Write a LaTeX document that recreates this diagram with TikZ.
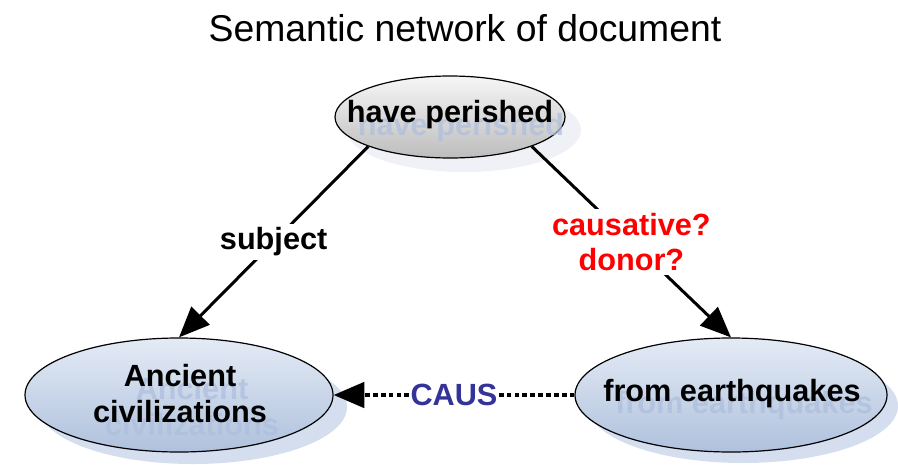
\documentclass[tikz,border=0pt]{standalone}
\usepackage{fontspec}
\setmainfont{Liberation Sans}
\usetikzlibrary{arrows.meta,shapes.geometric}
\newdimen\pxu \pxu=0.75pt
\definecolor{ellTop}{HTML}{E4EBF5}
\definecolor{ellBot}{HTML}{AFC1DD}
\definecolor{grayTop}{HTML}{F6F6F6}
\definecolor{grayBot}{HTML}{BDBDBD}
\definecolor{shadowBlue}{HTML}{D4DEEF}
\definecolor{shadowGray}{HTML}{EFF1F6}
\definecolor{ghostText}{HTML}{AEBFDD}
\definecolor{causBlue}{HTML}{333399}
\definecolor{askRed}{HTML}{FF0000}

\begin{document}
\begin{tikzpicture}[x=0.75pt,y=-0.75pt,
  concept/.style={ellipse, draw=black, line width=0.9pt, inner sep=0pt},
  blueconcept/.style={concept, top color=ellTop, bottom color=ellBot},
  grayconcept/.style={concept, top color=grayTop, bottom color=grayBot},
  word/.style={font=\fontsize{23}{27}\selectfont\bfseries, align=center, inner sep=0pt},
  ghost/.style={word, text=ghostText, opacity=0.75},
  edgelabel/.style={font=\fontsize{23}{26}\selectfont\bfseries, align=center, fill=white, inner sep=3pt},
  rel/.style={line width=2.25pt, -{Triangle[length=23pt,width=19pt]}},
  dashrel/.style={rel, line width=2.7pt, dash pattern=on 3.6pt off 2.3pt}
]
\useasboundingbox (0,0) rectangle (898,464);

% title
\node[font=\fontsize{28}{32}\selectfont] (title) at (465,28) {Semantic network of document};

% soft drop shadows behind the concepts
\fill[shadowGray] (464,130) ellipse [x radius=117, y radius=42];
\fill[shadowBlue] (193,407) ellipse [x radius=154, y radius=57];
\fill[shadowBlue] (743,406) ellipse [x radius=155, y radius=57];

% concepts
\node[grayconcept, minimum width=230\pxu, minimum height=82\pxu] (top) at (450,117) {};
\node[blueconcept, minimum width=308\pxu, minimum height=114\pxu] (left) at (179,395) {};
\node[blueconcept, minimum width=312\pxu, minimum height=114\pxu] (right) at (731,395) {};

% reflected captions
\node[ghost] (topghost) at (461,128) {have perished};
\node[ghost] (leftghost) at (192,407) {Ancient\\civilizations};
\node[ghost] (rightghost) at (744,406) {from earthquakes};

% captions
\node[word] (toptext) at (450,115) {have perished};
\node[word] (lefttext) at (180,394) {Ancient\\civilizations};
\node[word] (righttext) at (732,394) {from earthquakes};

% relations
\draw[rel] (top.south west) -- node[edgelabel] (subj) {subject} (left.north);
\draw[rel] (top.south east) -- node[edgelabel, text=askRed] (cause) {causative?\\donor?} (right.north);
\draw[dashrel] (right.west) -- node[edgelabel, text=causBlue, inner sep=1pt] (caus) {CAUS} (left.east);
\end{tikzpicture}
\end{document}
